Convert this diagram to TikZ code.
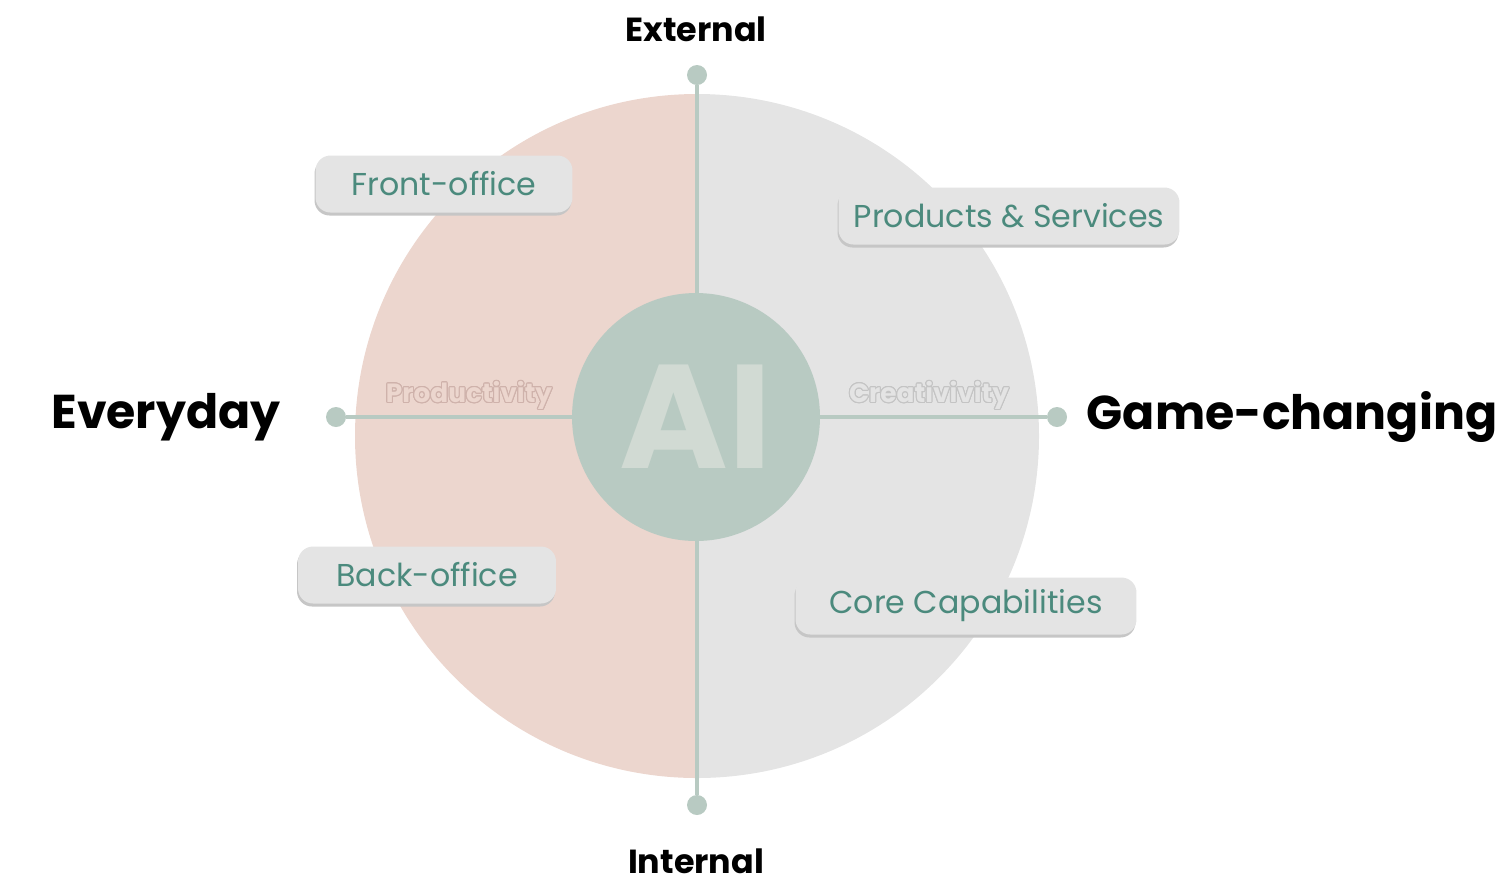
\documentclass[tikz,border=0pt]{standalone}
\usepackage{fontspec}
\setmainfont{Poppins}
\usepackage{contour}
\contourlength{0.6pt}
\definecolor{colorEveryday}{HTML}{ECD6CE}
\definecolor{colorGame}{HTML}{E4E4E4}
\definecolor{colorAxis}{HTML}{B8CAC2}
\definecolor{colorAI}{HTML}{D1DAD3}
\definecolor{colorArea}{HTML}{4B8A7D}
\definecolor{colorShadow}{HTML}{C6C6C6}
\definecolor{colorProdLine}{HTML}{CFB2AB}
\definecolor{colorCreaLine}{HTML}{C4C4C4}
\usetikzlibrary{positioning, shadows}
\tikzset{
  dot/.style={circle, fill=colorAxis, inner sep=0pt, minimum size=0.4cm},
  axis/.style={draw=colorAxis, line width=0.09cm},
  axislabel/.style={font=\fontsize{19}{22}\selectfont\bfseries, text=black},
  sidelabel/.style={font=\fontsize{27}{32}\selectfont\bfseries, text=black},
  area/.style={rounded corners=0.3cm, fill=colorGame, minimum height=1.14cm,
    text=colorArea, font=\fontsize{18}{22}\selectfont,
    drop shadow={shadow xshift=-0.02cm, shadow yshift=-0.06cm, fill=colorShadow, opacity=1}},
  hint/.style={font=\fontsize{15}{17}\selectfont\bfseries}
}
\begin{document}
\begin{tikzpicture}[x=0.02cm, y=-0.02cm]
\useasboundingbox (0,0) rectangle (1500,894);
\begin{scope}
\clip (0,0) rectangle (697,894);
\fill[colorEveryday] (697,436) circle[radius=342];
\end{scope}
\begin{scope}
\clip (697,0) rectangle (1500,894);
\fill[colorGame] (697,436) circle[radius=342];
\end{scope}
\node[dot] (ext) at (697,75) {};
\node[dot] (int) at (697,805) {};
\node[dot] (every) at (336,417) {};
\node[dot] (game) at (1057,417) {};
\draw[axis] (ext) -- (int);
\draw[axis] (every) -- (game);
\node[circle, fill=colorAxis, minimum size=4.96cm, text=colorAI,
  font=\fontsize{84}{84}\selectfont\bfseries] (ai) at (696,417) {AI};
\node[axislabel] (lext) at (696,29) {External};
\node[axislabel] (lint) at (696,861) {Internal};
\node[sidelabel] (levery) at (166,417) {Everyday};
\node[sidelabel] (lgame) at (1292,417) {Game-changing};
\node[hint, text=colorEveryday] (prod) at (469,396) {\contour{colorProdLine}{Productivity}};
\node[hint, text=colorGame] (crea) at (929,396) {\contour{colorCreaLine}{Creativivity}};
\node[area, minimum width=5.14cm] (front) at (444,184) {Front-office};
\node[area, minimum width=6.82cm] (prodserv) at (1009,216) {Products \& Services};
\node[area, minimum width=5.16cm] (back) at (427,575) {Back-office};
\node[area, minimum width=6.82cm] (core) at (966,606) {Core Capabilities};
\end{tikzpicture}
\end{document}
